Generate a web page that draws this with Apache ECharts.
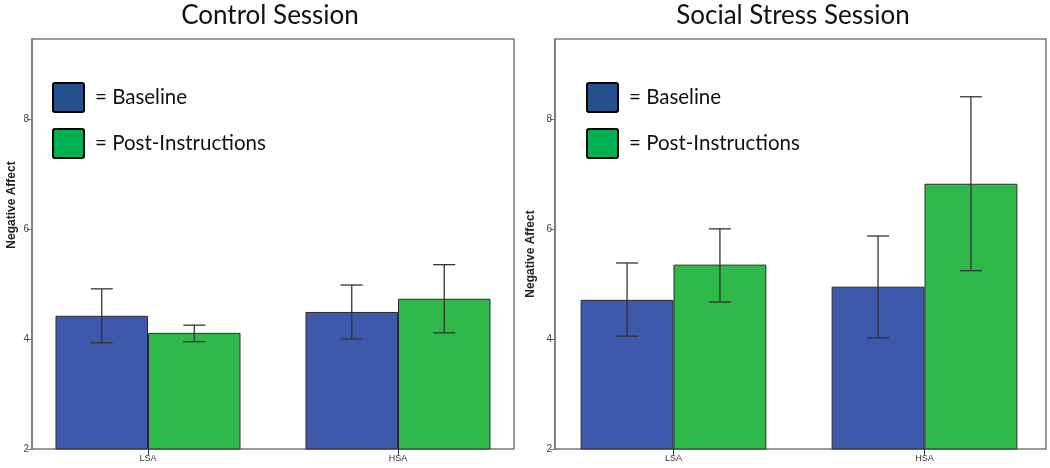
<!DOCTYPE html>
<html>
<head>
<meta charset="utf-8">
<script src="https://cdn.jsdelivr.net/npm/echarts@6/dist/echarts.min.js"></script>
<style>
  html, body { margin: 0; padding: 0; background: #fff; }
  #chart { width: 1050px; height: 468px; }
</style>
</head>
<body>
<div id="chart"></div>
<script>
// data
const categories = ['LSA', 'HSA'];
const yTicks = [2, 4, 6, 8];

// Control session
const controlBaseline = [4.42, 4.49];
const controlBaselineCI = [[3.93, 4.91], [4.0, 4.98]];
const controlPost = [4.11, 4.73];
const controlPostCI = [[3.95, 4.25], [4.11, 5.35]];

// Social stress session
const stressBaseline = [4.71, 4.95];
const stressBaselineCI = [[4.05, 5.38], [4.02, 5.87]];
const stressPost = [5.35, 6.82];
const stressPostCI = [[4.67, 6.0], [5.24, 8.4]];

const barBlue = '#3e58ab';
const barGreen = '#2fb94b';
const legendBlue = '#24508b';
const legendGreen = '#00b050';
const gapPct = 0.26;

function errorRows(ci) {
  return ci.map((r, i) => [i, r[0], r[1]]);
}

function errorSeries(name, ci, gridAxis, side) {
  return {
    type: 'custom',
    name: name,
    xAxisIndex: gridAxis,
    yAxisIndex: gridAxis,
    z: 5,
    encode: { x: 0, y: [1, 2] },
    data: errorRows(ci),
    renderItem: function (params, api) {
      const band = api.size([1, 0])[0];
      const bw = band * (1 - gapPct) / 2;
      const lo = api.coord([api.value(0), api.value(1)]);
      const hi = api.coord([api.value(0), api.value(2)]);
      const x = lo[0] + side * bw / 2;
      const cap = 11;
      const style = { stroke: '#333', lineWidth: 1.3 };
      return {
        type: 'group',
        children: [
          { type: 'line', shape: { x1: x, y1: lo[1], x2: x, y2: hi[1] }, style: style },
          { type: 'line', shape: { x1: x - cap, y1: lo[1], x2: x + cap, y2: lo[1] }, style: style },
          { type: 'line', shape: { x1: x - cap, y1: hi[1], x2: x + cap, y2: hi[1] }, style: style }
        ]
      };
    }
  };
}

function frameY(gridIndex) {
  return {
    gridIndex: gridIndex,
    type: 'value',
    min: 2,
    max: 9.45,
    interval: 2,
    axisLine: { show: true, lineStyle: { color: '#777', width: 1.5 } },
    axisTick: { show: true, length: 5, customValues: yTicks, lineStyle: { color: '#777' } },
    axisLabel: {
      customValues: yTicks, margin: 3,
      fontSize: 10, color: '#444', fontFamily: 'Liberation Sans'
    },
    splitLine: { show: false }
  };
}

function barY(gridIndex) {
  return { gridIndex: gridIndex, type: 'value', min: 2, max: 9.45, show: false };
}

function barX(gridIndex) {
  return {
    gridIndex: gridIndex,
    type: 'category',
    data: categories,
    axisLine: { show: false },
    axisTick: { show: true, alignWithLabel: true, length: 6, lineStyle: { color: '#333' } },
    axisLabel: { interval: 0, margin: 5, fontSize: 9, color: '#333', fontFamily: 'Liberation Sans' }
  };
}

function barSeries(name, values, axisIdx, color) {
  return {
    type: 'bar',
    name: name,
    xAxisIndex: axisIdx,
    yAxisIndex: axisIdx,
    data: values,
    barGap: 0,
    barCategoryGap: (gapPct * 100) + '%',
    itemStyle: { color: color, borderColor: '#2a2a2a', borderWidth: 1 }
  };
}

function legendAt(left) {
  return {
    orient: 'vertical',
    left: left,
    top: 82,
    padding: 0,
    itemWidth: 31,
    itemHeight: 29,
    itemGap: 15,
    selectedMode: false,
    formatter: '= {name}',
    textStyle: { fontSize: 20.5, fontFamily: 'Lato', color: '#111', padding: [0, 0, 0, 6] },
    data: [
      { name: 'Baseline', icon: 'path://M2,0 L29,0 Q31,0 31,2 L31,27 Q31,29 29,29 L2,29 Q0,29 0,27 L0,2 Q0,0 2,0 Z', itemStyle: { color: legendBlue, borderColor: '#000', borderWidth: 2 } },
      { name: 'Post-Instructions', icon: 'path://M2,0 L29,0 Q31,0 31,2 L31,27 Q31,29 29,29 L2,29 Q0,29 0,27 L0,2 Q0,0 2,0 Z', itemStyle: { color: legendGreen, borderColor: '#000', borderWidth: 2 } }
    ]
  };
}

const frameStyle = { show: true, borderColor: '#7a7a7a', borderWidth: 1.5, backgroundColor: 'transparent' };

const option = {
  animation: false,
  grid: [
    Object.assign({ left: 32, top: 39, width: 482, height: 410 }, frameStyle),
    { left: 23, top: 39, width: 500, height: 410 },
    Object.assign({ left: 555, top: 39, width: 491, height: 410 }, frameStyle),
    { left: 548, top: 39, width: 508, height: 410 }
  ],
  xAxis: [
    { gridIndex: 0, type: 'value', show: false },
    barX(1),
    { gridIndex: 2, type: 'value', show: false },
    barX(3)
  ],
  yAxis: [frameY(0), barY(1), frameY(2), barY(3)],
  legend: [legendAt(52), legendAt(586)],
  graphic: [
    {
      type: 'text', x: 270, y: 16,
      style: { text: 'Control Session', fontSize: 26, fontFamily: 'Lato', fill: '#111', align: 'center', verticalAlign: 'middle' }
    },
    {
      type: 'text', x: 793, y: 16,
      style: { text: 'Social Stress Session', fontSize: 26, fontFamily: 'Lato', fill: '#111', align: 'center', verticalAlign: 'middle' }
    },
    {
      type: 'text', x: 12, y: 205, rotation: Math.PI / 2,
      style: { text: 'Negative Affect', fontSize: 12, fontWeight: 'bold', fontFamily: 'Liberation Sans', fill: '#222', align: 'center', verticalAlign: 'middle' }
    },
    {
      type: 'text', x: 531, y: 254, rotation: Math.PI / 2,
      style: { text: 'Negative Affect', fontSize: 12, fontWeight: 'bold', fontFamily: 'Liberation Sans', fill: '#222', align: 'center', verticalAlign: 'middle' }
    }
  ],
  series: [
    barSeries('Baseline', controlBaseline, 1, barBlue),
    barSeries('Post-Instructions', controlPost, 1, barGreen),
    errorSeries('controlBaselineErr', controlBaselineCI, 1, -1),
    errorSeries('controlPostErr', controlPostCI, 1, 1),
    barSeries('Baseline', stressBaseline, 3, barBlue),
    barSeries('Post-Instructions', stressPost, 3, barGreen),
    errorSeries('stressBaselineErr', stressBaselineCI, 3, -1),
    errorSeries('stressPostErr', stressPostCI, 3, 1)
  ]
};

const chart = echarts.init(document.getElementById('chart'));
chart.setOption(option);
</script>
</body>
</html>
